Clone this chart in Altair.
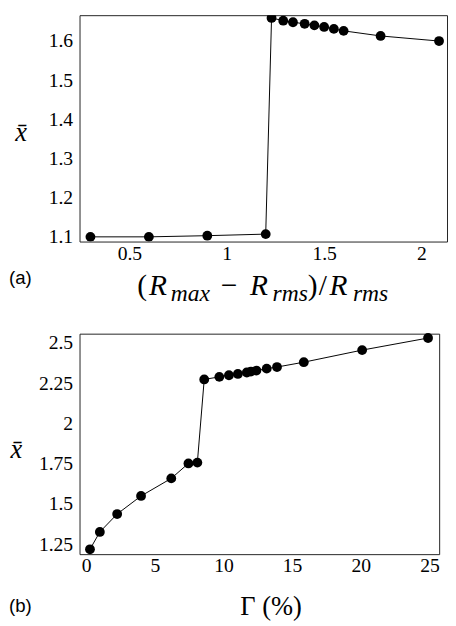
import altair as alt
import pandas as pd

# ---- panel (a) data ----
ratio = [0.3, 0.6, 0.9, 1.2, 1.23, 1.29, 1.34, 1.40, 1.45, 1.50, 1.55, 1.60, 1.79, 2.09]
xbar_a = [1.100, 1.100, 1.103, 1.107, 1.659, 1.652, 1.648, 1.644, 1.640, 1.636, 1.631, 1.626, 1.613, 1.600]
x_ticks_a = [0.5, 1, 1.5, 2]
y_ticks_a = [1.1, 1.2, 1.3, 1.4, 1.5, 1.6]

# ---- panel (b) data ----
gamma = [0.28, 1.0, 2.26, 4.0, 6.2, 7.45, 8.1, 8.6, 9.7, 10.4, 11.05, 11.7, 12.0, 12.4, 13.15, 13.9, 15.85, 20.1, 24.9]
xbar_b = [1.219, 1.327, 1.438, 1.550, 1.659, 1.752, 1.757, 2.273, 2.289, 2.299, 2.307, 2.316, 2.322, 2.328, 2.340, 2.350, 2.380, 2.455, 2.530]
x_ticks_b = [0, 5, 10, 15, 20, 25]
y_ticks_b = [1.25, 1.5, 1.75, 2, 2.25, 2.5]

panel_labels = ["(a)", "(b)"]
# x-axis title of panel (a): (R_max - R_rms)/R_rms, written piece by piece
title_a_pieces = ["(", "R", "max", "\u2212", "R", "rms", ")", "/", "R", "rms"]
title_b = "\u0393 (%)"
y_title = "x\u0304"

SERIF = "Liberation Serif"
SANS = "Liberation Sans"

df_a = pd.DataFrame({"r": ratio, "x": xbar_a})
df_b = pd.DataFrame({"g": gamma, "x": xbar_b})


def y_axis(values, tx, ty):
    return alt.Axis(
        values=values, format=".3~g", title=y_title, titleAngle=0,
        titleFont=SERIF, titleFontStyle="italic", titleFontSize=27,
        titleFontWeight="normal", titleColor="black",
        titleX=tx, titleY=ty, titleAlign="center", titleBaseline="middle",
        labelFont=SERIF, labelFontSize=20, labelColor="black", labelPadding=7,
        ticks=False, domain=False, grid=False,
    )


def piece(text, x, y, size, italic):
    return alt.Chart(pd.DataFrame({"t": [text]})).mark_text(
        align="left", baseline="alphabetic", font=SERIF, fontSize=size,
        fontStyle="italic" if italic else "normal", color="black",
    ).encode(text="t:N", x=alt.value(x), y=alt.value(y))


# ---- panel (a) ----
base_a = alt.Chart(df_a).encode(
    x=alt.X("r:Q", scale=alt.Scale(domain=[0.244, 2.131], nice=False, zero=False),
            axis=alt.Axis(values=x_ticks_a, format=".3~g", title=None,
                          labelFont=SERIF, labelFontSize=20, labelColor="black", labelPadding=2,
                          ticks=False, domain=False, grid=False)),
    y=alt.Y("x:Q", scale=alt.Scale(domain=[1.088, 1.666], nice=False, zero=False),
            axis=y_axis(y_ticks_a, -60, 120)),
)
line_a = base_a.mark_line(color="black", strokeWidth=1, clip=True)
pts_a = base_a.mark_circle(size=100, color="black", opacity=1, clip=True)
lab_a = alt.Chart(pd.DataFrame({"t": [panel_labels[0]]})).mark_text(
    align="left", baseline="alphabetic", font=SANS, fontSize=19, color="black"
).encode(text="t:N", x=alt.value(-72), y=alt.value(274))

BIG, SUB = 30, 24
yb, ys = 286, 292
p = title_a_pieces
title_layers = [
    piece(p[0], 59, yb, BIG, False),
    piece(p[1], 71, yb, BIG, True),
    piece(p[2], 93, ys, SUB, True),
    piece(p[3], 144, yb, BIG, False),
    piece(p[4], 174, yb, BIG, True),
    piece(p[5], 197, ys, SUB, True),
    piece(p[6], 233, yb, BIG, False),
    piece(p[7], 244, yb, BIG, False),
    piece(p[8], 255, yb, BIG, True),
    piece(p[9], 279, ys, SUB, True),
]
top = alt.layer(line_a, pts_a, lab_a, *title_layers).properties(width=375, height=231)

# ---- panel (b) ----
base_b = alt.Chart(df_b).encode(
    x=alt.X("g:Q", scale=alt.Scale(domain=[-0.48, 25.71], nice=False, zero=False),
            axis=alt.Axis(values=x_ticks_b, format=".3~g", title=title_b,
                          titleFont=SERIF, titleFontSize=27, titleFontWeight="normal",
                          titleColor="black", titleX=195, titleY=62, titleAlign="center",
                          titleBaseline="alphabetic",
                          labelFont=SERIF, labelFontSize=20, labelColor="black", labelPadding=2,
                          ticks=False, domain=False, grid=False)),
    y=alt.Y("x:Q", scale=alt.Scale(domain=[1.189, 2.557], nice=False, zero=False),
            axis=y_axis(y_ticks_b, -65, 118)),
)
line_b = base_b.mark_line(color="black", strokeWidth=1)
pts_b = base_b.mark_circle(size=100, color="black", opacity=1)
lab_b = alt.Chart(pd.DataFrame({"t": [panel_labels[1]]})).mark_text(
    align="left", baseline="alphabetic", font=SANS, fontSize=19, color="black"
).encode(text="t:N", x=alt.value(-72), y=alt.value(284))
bottom = alt.layer(line_b, pts_b, lab_b).properties(width=367, height=225)

chart = alt.vconcat(top, bottom, spacing=94, bounds="flush").properties(
    padding=0, background="white"
).configure_view(stroke="#222", strokeWidth=1)

chart.save("out.html", embed_options={"renderer": "svg", "actions": False})
